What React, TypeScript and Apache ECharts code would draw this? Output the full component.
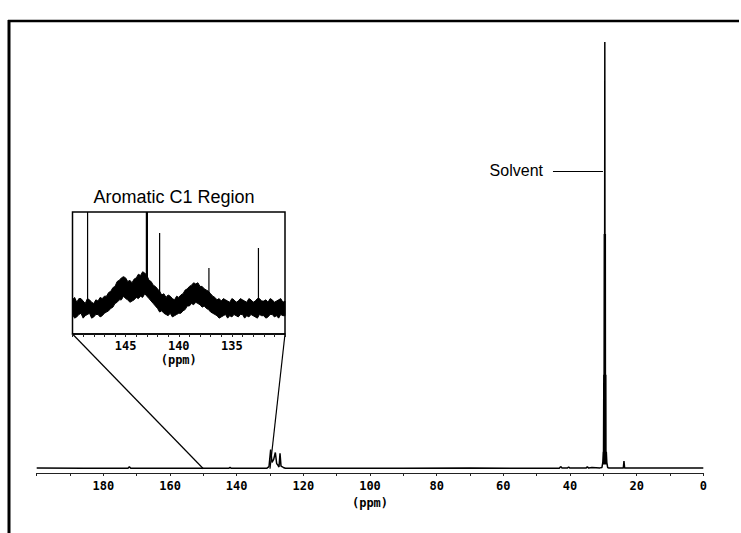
import { useEffect, useRef } from "react";
import * as echarts from "echarts";

// ---------- data ----------
// Main 13C spectrum: [ppm, relative intensity]
const mainSpectrum: [number, number][] = [
  [200, 0.15], [186, 0.1], [172.6, 0.1], [172.2, 0.45], [171.8, 0.1], [160, 0.1],
  [151, 0.1], [142.4, 0.1], [142, 0.3], [141.6, 0.1], [131, 0.1], [130.3, 0.5],
  [129.8, 4.5], [129.4, 1.5], [128.9, 2.2], [128.4, 3.8], [128.0, 1.2], [127.6, 0.8],
  [127.3, 0.4], [127.0, 3.6], [126.7, 0.6], [126.0, 0.3], [125.4, 0.1], [90, 0.1],
  [70, 0.15], [50, 0.1], [43.2, 0.1], [42.8, 0.5], [42.4, 0.15], [40.8, 0.15],
  [40.4, 0.4], [40, 0.15], [38, 0.2], [35.2, 0.15], [34.8, 0.45], [34.4, 0.15],
  [33.4, 0.3], [31, 0.2], [30.4, 0.3], [30.15, 1.5], [30.0, 4], [29.95, 1],
  [29.85, 22], [29.8, 1], [29.7, 55], [29.65, 2], [29.55, 100], [29.45, 2],
  [29.4, 55], [29.35, 1], [29.25, 22], [29.2, 1], [29.1, 4], [28.95, 1.5],
  [28.7, 0.3], [28.3, 0.15], [24.0, 0.15], [23.8, 1.8], [23.6, 0.15], [0, 0.15],
];
const mainLabelValues = [180, 160, 140, 120, 100, 80, 60, 40, 20, 0];
const axisName = "(ppm)";

// Solvent annotation: [ppm, intensity] of the pointer line ends
const solventText = "Solvent";
const solventPointer: [number, number][] = [[45.1, 69.8], [30.1, 69.8]];

// Inset (Aromatic C1 region, 150-130 ppm): noise band [ppm, lower, upper]
const insetTitle = "Aromatic C1 Region";
const insetRange: [number, number] = [130, 150];
const insetLabelValues = [145, 140, 135];
const insetBand: [number, number, number][] = [
  [150.0, 16, 28], [149.8, 13, 30], [149.6, 14, 26], [149.4, 16, 29], [149.2, 17, 29],
  [149.0, 13, 27], [148.8, 15, 25], [148.6, 16, 29], [148.4, 17, 28], [148.2, 13, 26],
  [148.0, 14, 25], [147.8, 16, 28], [147.6, 16, 27], [147.4, 14, 30], [147.2, 15, 29],
  [147.0, 17, 31], [146.8, 18, 31], [146.6, 19, 34], [146.4, 21, 35], [146.2, 22, 38],
  [146.0, 25, 39], [145.8, 26, 43], [145.6, 28, 44], [145.4, 28, 46], [145.2, 31, 47],
  [145.0, 29, 46], [144.8, 28, 43], [144.6, 26, 44], [144.4, 27, 42], [144.2, 28, 45],
  [144.0, 30, 46], [143.8, 29, 49], [143.6, 31, 48], [143.4, 30, 51], [143.2, 33, 50],
  [143.0, 31, 48], [142.8, 29, 44], [142.6, 27, 43], [142.4, 25, 40], [142.2, 23, 39],
  [142.0, 21, 37], [141.8, 18, 35], [141.6, 19, 32], [141.4, 17, 33], [141.2, 16, 30],
  [141.0, 15, 32], [140.8, 17, 31], [140.6, 14, 29], [140.4, 15, 28], [140.2, 16, 31],
  [140.0, 17, 30], [139.8, 17, 32], [139.6, 19, 33], [139.4, 20, 36], [139.2, 23, 37],
  [139.0, 23, 39], [138.8, 25, 40], [138.6, 24, 42], [138.4, 26, 41], [138.2, 25, 42],
  [138.0, 24, 39], [137.8, 22, 39], [137.6, 23, 37], [137.4, 21, 36], [137.2, 20, 35],
  [137.0, 18, 33], [136.8, 17, 31], [136.6, 16, 30], [136.4, 15, 28], [136.2, 13, 29],
  [136.0, 14, 27], [135.8, 15, 29], [135.6, 16, 28], [135.4, 13, 27], [135.2, 15, 26],
  [135.0, 14, 29], [134.8, 16, 28], [134.6, 15, 26], [134.4, 14, 27], [134.2, 16, 29],
  [134.0, 16, 28], [133.8, 13, 27], [133.6, 15, 26], [133.4, 14, 29], [133.2, 16, 28],
  [133.0, 15, 26], [132.8, 14, 27], [132.6, 13, 29], [132.4, 16, 29], [132.2, 15, 27],
  [132.0, 15, 27], [131.8, 13, 28], [131.6, 14, 26], [131.4, 16, 29], [131.2, 16, 28],
  [131.0, 14, 26], [130.8, 15, 27], [130.6, 13, 28], [130.4, 16, 29], [130.2, 15, 26],
  [130.0, 15, 27],
];
// Sharp inset peaks: [ppm, base intensity, top intensity]
const insetPeaks: [number, number, number][] = [
  [148.58, 16, 100], [143.0, 32, 100], [141.8, 19, 82.8], [137.16, 21, 54], [132.5, 16, 70.5],
];

export default function App() {
  const ref = useRef<HTMLDivElement>(null);

  useEffect(() => {
    if (!ref.current) return;
    const chart = echarts.init(ref.current, null, { renderer: "svg" });
    const mono = "'DejaVu Sans Mono', monospace";
    const sans = "'Liberation Sans', Arial, sans-serif";
    const labelStyle = {
      fontFamily: mono,
      fontWeight: "bold" as const,
      fontSize: 12,
      color: "#000",
    };

    const option: any = {
      animation: false,
      backgroundColor: "#fff",
      grid: [
        { left: 36.7, right: 37.7, top: 42, bottom: 60 },
        {
          left: 72.5, top: 212, width: 212.5, height: 122,
          show: true, borderColor: "#000", borderWidth: 1.5, backgroundColor: "transparent",
        },
      ],
      xAxis: [
        {
          gridIndex: 0, type: "value", inverse: true, min: 0, max: 200, interval: 10,
          splitLine: { show: false },
          axisLine: { onZero: false, lineStyle: { color: "#222", width: 1 } },
          axisTick: { length: 3, lineStyle: { color: "#222", width: 1 } },
          axisLabel: {
            ...labelStyle, margin: 7,
            formatter: (v: number) => (mainLabelValues.includes(v) ? String(v) : ""),
          },
          name: axisName, nameLocation: "middle", nameGap: 19,
          nameTextStyle: { ...labelStyle },
        },
        {
          gridIndex: 1, type: "value", inverse: true, min: insetRange[0], max: insetRange[1], interval: 1,
          splitLine: { show: false },
          axisLine: { onZero: false, lineStyle: { color: "#000", width: 1.5 } },
          axisTick: { length: 3, lineStyle: { color: "#222", width: 1 } },
          axisLabel: {
            ...labelStyle, margin: 6,
            formatter: (v: number) => (insetLabelValues.includes(v) ? String(v) : ""),
          },
          name: axisName, nameLocation: "middle", nameGap: 20,
          nameTextStyle: { ...labelStyle },
        },
      ],
      yAxis: [
        { gridIndex: 0, type: "value", min: -1, max: 100, show: false },
        { gridIndex: 1, type: "value", min: 0, max: 100, show: false },
      ],
      series: [
        {
          type: "line", xAxisIndex: 0, yAxisIndex: 0, data: mainSpectrum,
          showSymbol: false, symbol: "none",
          lineStyle: { color: "#000", width: 1.5 },
          markLine: {
            silent: true, symbol: ["none", "none"],
            lineStyle: { color: "#000", width: 1, type: "solid" },
            label: {
              show: true, position: "start", distance: 10,
              formatter: solventText, fontFamily: sans, fontSize: 16, color: "#000",
            },
            data: [[{ coord: solventPointer[0] }, { coord: solventPointer[1] }]],
          },
        },
        {
          type: "custom", xAxisIndex: 1, yAxisIndex: 1, coordinateSystem: "cartesian2d",
          data: [[140, 25]], silent: true, clip: true,
          renderItem: (_params: any, api: any) => {
            const upper = insetBand.map(([x, , hi]) => api.coord([x, hi]));
            const lower = insetBand.slice().reverse().map(([x, lo]) => api.coord([x, lo]));
            return {
              type: "polygon",
              shape: { points: [...upper, ...lower] },
              style: { fill: "#000", stroke: "#000", lineWidth: 1 },
            };
          },
        },
        ...insetPeaks.map(([x, base, h], i) => ({
          type: "line", xAxisIndex: 1, yAxisIndex: 1,
          data: [[x, base], [x, h]],
          showSymbol: false, symbol: "none", clip: true,
          lineStyle: { color: "#000", width: i === 1 ? 2.2 : 1.2 },
        })),
      ],
      graphic: [
        // outer frame (top and left edges)
        { type: "line", shape: { x1: 8, y1: 21, x2: 739, y2: 21 }, style: { stroke: "#000", lineWidth: 2.5 } },
        { type: "line", shape: { x1: 9, y1: 20, x2: 9, y2: 533 }, style: { stroke: "#000", lineWidth: 3 } },
        {
          type: "text", x: 174, y: 197,
          style: {
            text: insetTitle, fontFamily: sans, fontSize: 18, fill: "#000",
            textAlign: "center", textVerticalAlign: "middle",
          },
        },
      ],
    };
    chart.setOption(option);

    // connector lines from inset corners to the zoomed region on the main baseline
    const a1 = chart.convertToPixel({ gridIndex: 1 } as any, [insetRange[1], 0]) as number[];
    const b1 = chart.convertToPixel({ gridIndex: 0 } as any, [insetRange[1], 0]) as number[];
    const a2 = chart.convertToPixel({ gridIndex: 1 } as any, [insetRange[0], 0]) as number[];
    const b2 = chart.convertToPixel({ gridIndex: 0 } as any, [insetRange[0], 0]) as number[];
    chart.setOption({
      graphic: [
        ...option.graphic,
        { type: "line", shape: { x1: a1[0], y1: a1[1], x2: b1[0], y2: b1[1] }, style: { stroke: "#000", lineWidth: 1.2 } },
        { type: "line", shape: { x1: a2[0], y1: a2[1], x2: b2[0], y2: b2[1] }, style: { stroke: "#000", lineWidth: 1.2 } },
      ],
    });

    return () => chart.dispose();
  }, []);

  return (
    <div
      ref={ref}
      style={{ position: "fixed", left: 0, top: 0, width: 741, height: 533, background: "#fff" }}
    />
  );
}
